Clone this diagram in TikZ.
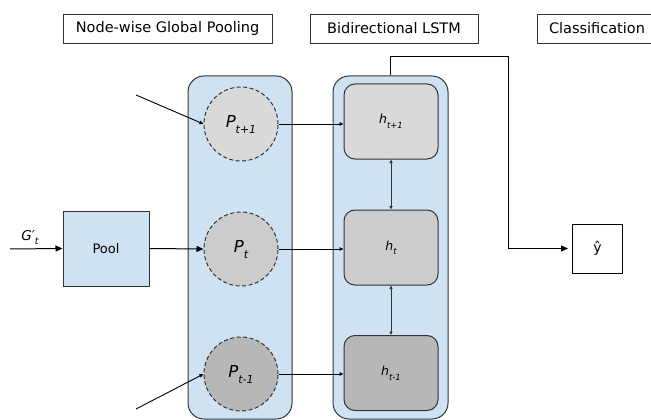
\documentclass[tikz,border=0pt]{standalone}
\usepackage{fontspec}
\setmainfont{DejaVu Sans}
\usetikzlibrary{arrows.meta}
\definecolor{colblue}{HTML}{CFE2F3}
\definecolor{shadeA}{HTML}{D9D9D9}
\definecolor{shadeB}{HTML}{CCCCCC}
\definecolor{shadeC}{HTML}{B7B7B7}
\definecolor{edge}{HTML}{333333}
% P and h with lowered italic subscripts
\newcommand{\symP}[1]{{\fontsize{16.5}{16.5}\selectfont\textit{P}}\raisebox{-6pt}{\fontsize{11}{11}\selectfont\itshape #1}}
\newcommand{\symh}[1]{{\fontsize{12.5}{12.5}\selectfont\textit{h}}\raisebox{-4.5pt}{\fontsize{8.5}{8.5}\selectfont\itshape #1}}
\begin{document}
\begin{tikzpicture}[x=1pt,y=-1pt,
  header/.style={draw=edge,line width=0.9pt,minimum height=29pt,inner sep=0pt,font=\fontsize{14.5}{14.5}\selectfont},
  column/.style={draw=edge,fill=colblue,line width=1pt,rounded corners=16pt,inner sep=0pt},
  pnode/.style={circle,draw=edge,dash pattern=on 4pt off 2.5pt,line width=1pt,minimum size=74pt,inner sep=0pt},
  hnode/.style={draw=edge,line width=1pt,rounded corners=11pt,minimum width=94pt,minimum height=75pt,inner sep=0pt},
  bigarrow/.style={-{Triangle[length=7pt,width=6pt]},line width=1pt},
  smallarrow/.style={-{Triangle[length=4pt,width=3.5pt]},line width=0.9pt},
  twoway/.style={{Triangle[length=3.5pt,width=3pt]}-{Triangle[length=3.5pt,width=3pt]},line width=0.8pt,draw=edge},
]
\useasboundingbox (0,0) rectangle (651,420);

% column headers
\node[header,minimum width=209pt] (hpool) at (167.5,28.5) {Node-wise Global Pooling};
\node[header,minimum width=168pt] (hlstm) at (394,28.5) {Bidirectional LSTM};
\node[header,minimum width=120pt] (hcls) at (597,28.5) {Classification};

% background columns
\node[column,minimum width=104pt,minimum height=343pt] (colpool) at (240,247.5) {};
\node[column,minimum width=115pt,minimum height=343pt] (collstm) at (390.5,247.5) {};

% pooled graph embeddings
\node[pnode,fill=shadeA] (pa) at (241,124) {\symP{t+1}};
\node[pnode,fill=shadeB] (pb) at (241,249) {\symP{t}};
\node[pnode,fill=shadeC] (pc) at (241,374) {\symP{t-1}};

% hidden states
\node[hnode,fill=shadeA] (ha) at (391,121.5) {\symh{t+1}};
\node[hnode,fill=shadeB] (hb) at (391,247.5) {\symh{t}};
\node[hnode,fill=shadeC] (hc) at (391,373) {\symh{t-1}};

% pooling block and output
\node[draw=edge,fill=colblue,line width=1pt,minimum width=86pt,minimum height=75pt,inner sep=0pt,
      font=\fontsize{13}{13}\selectfont] (pool) at (106,248.5) {Pool};
\node[draw=black,line width=1pt,minimum width=50pt,minimum height=49pt,inner sep=0pt,
      font=\fontsize{14}{14}\selectfont] (yhat) at (597.5,248.5) {ŷ};

% input
\coordinate (gin) at (10,249);
\node (glabel) at (30,237) {{\fontsize{13.5}{13.5}\selectfont\textit{G′}}\raisebox{-4pt}{\fontsize{9.5}{9.5}\selectfont\itshape t}};
\draw[bigarrow] (gin) -- (pool.west);
\draw[bigarrow] (pool.east) -- (pb.west);

% neighbouring time steps
\coordinate (ina) at (136,95);
\coordinate (inc) at (136,409);
\draw[smallarrow] (ina) -- (pa.west);
\draw[smallarrow] (inc) -- (pc.west);

% embeddings into the LSTM
\draw[smallarrow] (pa.east) -- (pa.east -| ha.west);
\draw[smallarrow] (pb.east) -- (pb.east -| hb.west);
\draw[smallarrow] (pc.east) -- (pc.east -| hc.west);

% bidirectional links
\draw[twoway] (ha.south) -- (hb.north);
\draw[twoway] (hb.south) -- (hc.north);

% LSTM output to classifier
\coordinate (turn) at (508,57);
\draw[bigarrow,shorten >=4pt] (collstm.north) |- (turn) |- (yhat.west);
\end{tikzpicture}
\end{document}
